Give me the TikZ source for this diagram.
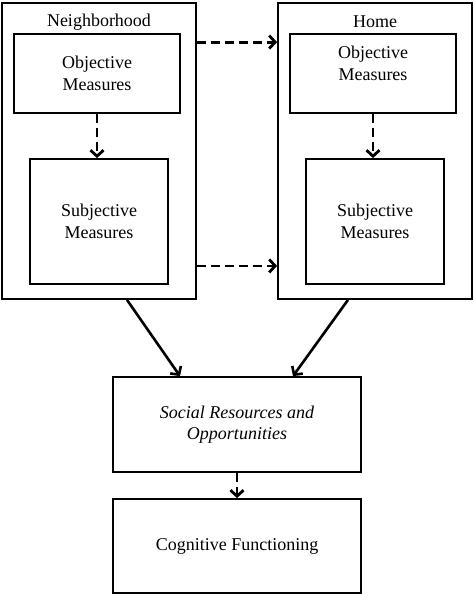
\documentclass[tikz,border=0pt]{standalone}
\usepackage{fontspec}
\setmainfont{Liberation Serif}
\usetikzlibrary{arrows.meta,positioning}

\begin{document}
\begin{tikzpicture}[x=1pt,y=-1pt,
        every node/.style={font=\fontsize{18}{21.5}\selectfont},
        box/.style={draw,line width=1.8pt,align=center,inner sep=0pt},
        dasharrow/.style={line width=2.8pt,dash pattern=on 9pt off 5pt,-{Straight Barb[length=6pt,width=13pt]}},
        solidarrow/.style={line width=2.6pt,-{Straight Barb[length=6pt,width=13pt]}}]
    \useasboundingbox (0,0) rectangle (474,595);
    % neighborhood
    \node [box,minimum width=194pt,minimum height=296pt] (nbh) at (99,151) {};
    \node (nbhlabel) at (99,22) {Neighborhood};
    \node [box,minimum width=166pt,minimum height=79pt] (nobj) at (97,73.5) {Objective\\Measures};
    \node [box,minimum width=138pt,minimum height=125pt] (nsubj) at (99,221.5) {Subjective\\Measures};
    % home
    \node [box,minimum width=194pt,minimum height=296pt] (home) at (375,151) {};
    \node (homelabel) at (375,22) {Home};
    \node [box,minimum width=166pt,minimum height=79pt,text depth=20pt] (hobj) at (373,73.5) {Objective\\Measures};
    \node [box,minimum width=138pt,minimum height=125pt] (hsubj) at (375,221.5) {Subjective\\Measures};
    % outcome
    \node [box,minimum width=248pt,minimum height=95pt,font=\fontsize{18}{21.5}\selectfont\itshape] (social) at (237,424.5) {Social Resources and\\Opportunities};
    \node [box,minimum width=248pt,minimum height=94pt] (cog) at (237,546) {Cognitive Functioning};
    % arrows
    \draw [dasharrow] (nobj.south) -- (nobj.south |- nsubj.north);
    \draw [dasharrow] (hobj.south) -- (hobj.south |- hsubj.north);
    \draw [dasharrow] ([yshift=-9pt]nobj.north -| nbh.east) -- ([yshift=-9pt]nobj.north -| home.west);
    \draw [dasharrow] ([yshift=19pt]nsubj.south -| nbh.east) -- ([yshift=19pt]nsubj.south -| home.west);
    \draw [solidarrow] ([xshift=28pt]nbh.south) -- ([xshift=-57pt]social.north);
    \draw [solidarrow] ([xshift=-27pt]home.south) -- ([xshift=56pt]social.north);
    \draw [dasharrow] (social.south) -- (cog.north);
\end{tikzpicture}
\end{document}
